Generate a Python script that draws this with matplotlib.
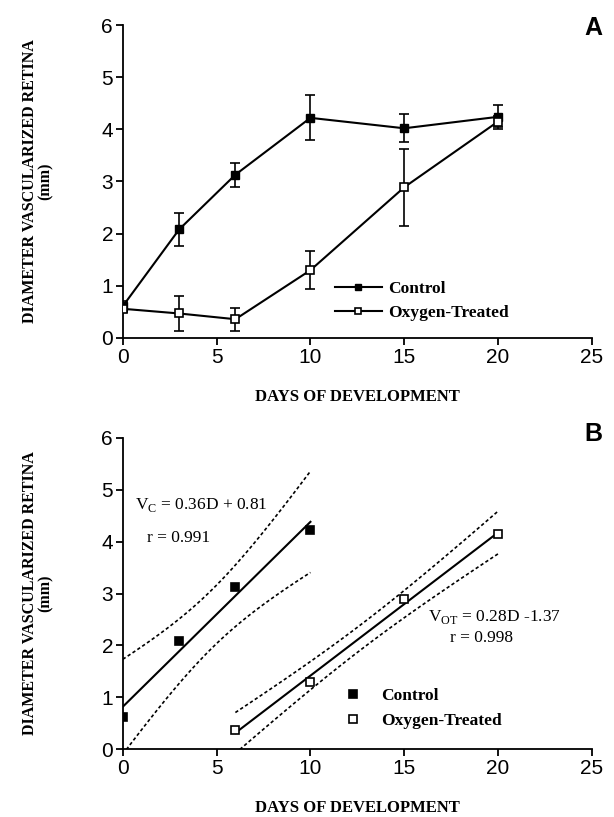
import numpy as np
import matplotlib
matplotlib.use("Agg")
import matplotlib.pyplot as plt
from matplotlib.lines import Line2D

# panel A: mean diameter (mm) with error bars
days = [0, 3, 6, 10, 15, 20]
control = [0.61, 2.08, 3.13, 4.22, 4.02, 4.24]
control_err = [0.10, 0.31, 0.23, 0.43, 0.27, 0.23]
oxygen = [0.56, 0.47, 0.36, 1.30, 2.89, 4.15]
oxygen_err = [0.06, 0.34, 0.22, 0.36, 0.74, 0.10]

# panel B: linear phase used for the regressions
days_c = [0, 3, 6, 10]
vals_c = [0.61, 2.08, 3.13, 4.22]
days_ot = [6, 10, 15, 20]
vals_ot = [0.36, 1.30, 2.89, 4.15]

xticks = [0, 5, 10, 15, 20, 25]
yticks = [0, 1, 2, 3, 4, 5, 6]

SERIF = "Liberation Serif"
SANS = "Liberation Sans"
T95 = 4.303  # t(0.975, df=2), n = 4 points per fit


def fit_band(x, y):
    x = np.asarray(x, float)
    y = np.asarray(y, float)
    b, a = np.polyfit(x, y, 1)
    n = len(x)
    s = np.sqrt(np.sum((y - (a + b * x)) ** 2) / (n - 2))
    sxx = np.sum((x - x.mean()) ** 2)
    xs = np.linspace(x.min(), x.max(), 100)
    fit = a + b * xs
    half = T95 * s * np.sqrt(1 / n + (xs - x.mean()) ** 2 / sxx)
    return xs, fit, fit - half, fit + half


def style_axes(ax, letter, ly):
    ax.set_xlim(0, 25)
    ax.set_ylim(0, 6)
    ax.set_xticks(xticks)
    ax.set_yticks(yticks)
    for s in ["top", "right"]:
        ax.spines[s].set_visible(False)
    for s in ["left", "bottom"]:
        ax.spines[s].set_linewidth(1.3)
    ax.tick_params(direction="out", length=5, width=1.3, labelsize=15, pad=2)
    for lab in ax.get_xticklabels() + ax.get_yticklabels():
        lab.set_family(SANS)
    ax.set_xlabel("DAYS OF DEVELOPMENT", family=SERIF, fontweight="bold",
                  fontsize=12, labelpad=16)
    ax.set_ylabel("DIAMETER VASCULARIZED RETINA\n(mm)", family=SERIF,
                  fontweight="bold", fontsize=11.5, labelpad=34, linespacing=1.05)
    ax.text(1.004, ly, letter, transform=ax.transAxes, family=SANS,
            fontweight="bold", fontsize=18, ha="center", va="center",
            clip_on=False)


fig = plt.figure(figsize=(6.14, 8.17), dpi=100)
axA = fig.add_axes([0.200, 0.5863, 0.764, 0.3831])
axB = fig.add_axes([0.200, 0.0832, 0.764, 0.3807])

leg_font = {"family": SERIF, "weight": "bold", "size": 12.5}

# ---- panel A
axA.errorbar(days, control, yerr=control_err, color="black", lw=1.5,
             marker="s", ms=5.5, mfc="black", mec="black", capsize=3.5,
             elinewidth=1.2, capthick=1.2, zorder=3)
axA.errorbar(days, oxygen, yerr=oxygen_err, color="black", lw=1.5,
             marker="s", ms=5.5, mfc="white", mec="black", mew=1.2,
             capsize=3.5, elinewidth=1.2, capthick=1.2, zorder=4)
style_axes(axA, "A", 0.99)
handles_a = [
    Line2D([], [], color="black", lw=1.5, marker="s", ms=5, mfc="black",
           mec="black"),
    Line2D([], [], color="black", lw=1.5, marker="s", ms=5, mfc="white",
           mec="black", mew=1.2),
]
axA.legend(handles_a, ["Control", "Oxygen-Treated"], loc="upper left",
           bbox_to_anchor=(0.437, 0.205), frameon=False, prop=leg_font,
           handlelength=2.7, handletextpad=0.35, labelspacing=0.45,
           borderaxespad=0)

# ---- panel B
for dx, dy, face, lab in [(days_c, vals_c, "black", "Control"),
                          (days_ot, vals_ot, "white", "Oxygen-Treated")]:
    xs, fit, lo, hi = fit_band(dx, dy)
    axB.plot(xs, fit, color="black", lw=1.5)
    axB.plot(xs, lo, color="black", lw=1.2, ls=(0, (2, 1.5)))
    axB.plot(xs, hi, color="black", lw=1.2, ls=(0, (2, 1.5)))
    axB.plot(dx, dy, ls="none", marker="s", ms=6, mfc=face, mec="black",
             mew=1.2, label=lab, zorder=4)
style_axes(axB, "B", 1.013)
eq_font = {"family": SERIF, "fontsize": 12.5, "va": "center"}
axB.text(0.64, 4.71, "V$_\\mathregular{C}$ = 0.36D + 0.81", **eq_font)
axB.text(1.28, 4.07, "r = 0.991", **eq_font)
axB.text(16.26, 2.55, "V$_\\mathregular{OT}$ = 0.28D -1.37", **eq_font)
axB.text(17.43, 2.14, "r = 0.998", **eq_font)
axB.legend(loc="upper left", bbox_to_anchor=(0.457, 0.22), frameon=False,
           prop=leg_font, handlelength=1.0, handletextpad=1.16,
           labelspacing=0.55, borderaxespad=0)

fig.savefig("out.png", dpi=100)
